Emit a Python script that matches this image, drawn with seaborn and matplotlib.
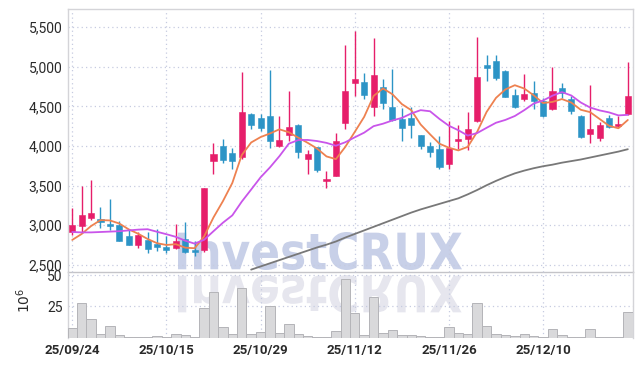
import numpy as np
import matplotlib
matplotlib.use("Agg")
import matplotlib.pyplot as plt
import seaborn as sns
from matplotlib.textpath import TextPath
from matplotlib.patches import PathPatch
from matplotlib.font_manager import FontProperties
from matplotlib.transforms import Affine2D, IdentityTransform
from matplotlib.ticker import FuncFormatter

# ---------------- data ----------------
dates = ["25/09/24", "25/09/25", "25/09/26", "25/09/29", "25/09/30", "25/10/01", "25/10/02",
         "25/10/10", "25/10/13", "25/10/14", "25/10/15", "25/10/16", "25/10/17", "25/10/20",
         "25/10/21", "25/10/22", "25/10/23", "25/10/24", "25/10/27", "25/10/28", "25/10/29",
         "25/10/30", "25/10/31", "25/11/03", "25/11/04", "25/11/05", "25/11/06", "25/11/07",
         "25/11/10", "25/11/11", "25/11/12", "25/11/13", "25/11/14", "25/11/17", "25/11/18",
         "25/11/19", "25/11/20", "25/11/21", "25/11/24", "25/11/25", "25/11/26", "25/11/27",
         "25/11/28", "25/12/01", "25/12/02", "25/12/03", "25/12/04", "25/12/05", "25/12/08",
         "25/12/09", "25/12/10", "25/12/11", "25/12/12", "25/12/15", "25/12/16", "25/12/17",
         "25/12/18", "25/12/19", "25/12/22", "25/12/23"]

opens = [2920, 2995, 3090, 3085, 3010, 3000, 2860, 2755, 2815, 2765,
         2730, 2715, 2825, 2690, 2690, 3815, 4005, 3915, 3860, 4410,
         4355, 4385, 4005, 4145, 4265, 3840, 3985, 3555, 3620, 4290,
         4795, 4810, 4490, 4745, 4495, 4345, 4355, 4135, 4005, 3965,
         3775, 4070, 4085, 4310, 5025, 5075, 4950, 4650, 4600, 4670,
         4570, 4470, 4730, 4595, 4385, 4155, 4105, 4355, 4250, 4405]
highs = [3220, 3490, 3570, 3235, 3330, 3055, 2940, 2910, 2910, 2950,
         2865, 3015, 3035, 2805, 3470, 4040, 4090, 3980, 4940, 4420,
         4405, 4960, 4375, 4700, 4275, 3955, 3990, 3685, 4165, 5275,
         5450, 4920, 5360, 4845, 4970, 4480, 4495, 4145, 4050, 4125,
         4310, 4260, 4425, 5375, 5150, 5150, 4960, 4720, 4910, 4815,
         4610, 4995, 4795, 4630, 4390, 4775, 4300, 4395, 4375, 5060]
lows = [2880, 2915, 3065, 2960, 2945, 2800, 2750, 2710, 2645, 2680,
        2655, 2695, 2645, 2610, 2665, 3645, 3790, 3715, 3840, 4210,
        4190, 3980, 3990, 4060, 3845, 3645, 3670, 3465, 3620, 4210,
        4635, 4595, 4375, 4470, 4310, 4070, 4105, 3965, 3865, 3710,
        3705, 3965, 3955, 4300, 4825, 4835, 4620, 4480, 4565, 4470,
        4370, 4460, 4605, 4405, 4105, 4040, 4065, 4230, 4235, 4395]
closes = [3000, 3130, 3150, 3035, 2990, 2805, 2755, 2880, 2705, 2725,
          2690, 2805, 2660, 2665, 3465, 3895, 3830, 3810, 4430, 4260,
          4230, 4060, 4075, 4240, 3925, 3905, 3695, 3580, 4070, 4700,
          4845, 4650, 4900, 4545, 4335, 4225, 4260, 4000, 3925, 3735,
          3980, 4090, 4220, 4870, 4990, 4865, 4625, 4490, 4660, 4565,
          4375, 4700, 4670, 4440, 4110, 4220, 4270, 4235, 4280, 4635]

ma_short = [2815, 2890, 2990, 3065, 3061, 3022, 2948, 2893, 2827, 2774,
            2751, 2761, 2717, 2710, 2858, 3099, 3304, 3534, 3886, 4045,
            4113, 4159, 4211, 4174, 4106, 4041, 3968, 3869, 3835, 3990,
            4178, 4368, 4632, 4727, 4654, 4530, 4453, 4272, 4148, 4029,
            3979, 3945, 3990, 4179, 4430, 4608, 4715, 4768, 4726, 4641,
            4543, 4557, 4593, 4549, 4458, 4428, 4342, 4256, 4224, 4329]
ma_mid = [2915, 2910, 2910, 2915, 2920, 2925, 2935, 2945, 2950, 2918,
          2887, 2854, 2805, 2768, 2816, 2925, 3032, 3125, 3298, 3451,
          3605, 3731, 3872, 4030, 4076, 4077, 4063, 4040, 4004, 4048,
          4110, 4169, 4251, 4282, 4323, 4355, 4411, 4453, 4439, 4342,
          4256, 4200, 4132, 4164, 4230, 4294, 4330, 4379, 4453, 4536,
          4575, 4636, 4681, 4638, 4550, 4486, 4450, 4425, 4387, 4394]
ma_long = [2440, 2480, 2520, 2560, 2600, 2640, 2680, 2720, 2755, 2795,
           2845, 2890, 2935, 2980, 3025, 3070, 3115, 3160, 3200, 3235,
           3270, 3305, 3340, 3390, 3445, 3505, 3560, 3610, 3655, 3690,
           3720, 3745, 3765, 3790, 3810, 3830, 3855, 3880, 3905, 3930, 3960]
ma_long_start = 19

volume = [7.3, 28.2, 15.3, 2.7, 9.1, 1.9, 0.8, 0.8, 0.8, 1.6,
          0.8, 3.2, 2.4, 0.8, 23.4, 36.3, 8.1, 3.2, 39.5, 3.2,
          4.7, 25.0, 3.8, 10.5, 3.0, 1.6, 0.8, 0.8, 5.1, 47.3,
          19.9, 2.4, 32.5, 3.7, 6.1, 2.3, 2.3, 1.4, 0.6, 0.6,
          8.6, 3.8, 2.7, 27.7, 9.4, 2.7, 2.1, 1.5, 2.7, 1.5,
          0.6, 6.8, 2.3, 0.6, 0.6, 6.8, 0.6, 0.6, 0.3, 20.7]

price_ticks = [2500, 3000, 3500, 4000, 4500, 5000, 5500]
volume_ticks = [25, 50]
watermark = "InvestCRUX"

# ---------------- style ----------------
UP = "#e61e6a"
DOWN = "#2c94c6"
C_SHORT = "#ee8150"
C_MID = "#c955ea"
C_LONG = "#787878"
GRID = "#c6cbe0"
SPINE = "#d4d4d8"
TXT = "#2a2a2a"

sns.set_theme(style="white")
plt.rcParams["font.family"] = ["Roboto", "DejaVu Sans"]

W, H = 642, 366
fig = plt.figure(figsize=(W / 100, H / 100), dpi=100)
L, R = 68 / W, 633 / W
ax = fig.add_axes([L, 1 - 272 / H, R - L, (272 - 9) / H])
axv = fig.add_axes([L, 1 - 337.5 / H, R - L, (337.5 - 272) / H], sharex=ax)
for a in (ax, axv):
    a.patch.set_alpha(0)

o = np.array(opens, float)
c = np.array(closes, float)
hi = np.array(highs, float)
lo = np.array(lows, float)
idx = np.arange(len(dates))
cols = [UP if cc >= oo else DOWN for oo, cc in zip(o, c)]

# candles
ax.vlines(idx, lo, hi, colors=cols, linewidth=1.0, zorder=3)
body_lo = np.minimum(o, c)
body_h = np.maximum(np.abs(c - o), 22)
ax.bar(idx, body_h, bottom=body_lo, width=0.64, color=cols, edgecolor=cols,
       linewidth=0.4, zorder=4)

# moving averages
sns.lineplot(x=idx, y=ma_short, ax=ax, color=C_SHORT, linewidth=1.3, zorder=5)
sns.lineplot(x=idx, y=ma_mid, ax=ax, color=C_MID, linewidth=1.3, zorder=5)
sns.lineplot(x=idx[ma_long_start:], y=ma_long, ax=ax, color=C_LONG,
             linewidth=1.3, zorder=5)

# volume
sns.barplot(x=idx, y=volume, ax=axv, native_scale=True, width=1.0,
            color="#d9d9db", edgecolor="#b4b4b8", linewidth=0.7, saturation=1,
            zorder=3)

# axes setup
ax.set_xlim(-0.45, len(dates) - 0.45)
ax.set_ylim(2410, 5730)
axv.set_ylim(0, 52.8)

xt = idx[::10]
ax.set_xticks(xt)
axv.set_xticks(xt)
axv.set_xticklabels([dates[i] for i in xt])
ax.tick_params(axis="x", labelbottom=False, length=0)
axv.tick_params(axis="x", length=0, pad=5, labelsize=9.5, labelcolor=TXT)
for t in axv.get_xticklabels():
    t.set_fontweight("bold")

ax.set_yticks(price_ticks)
ax.yaxis.set_major_formatter(FuncFormatter(lambda v, p: f"{int(v):,}"))
ax.tick_params(axis="y", length=0, pad=4, labelsize=10, labelcolor=TXT)
axv.set_yticks(volume_ticks)
axv.tick_params(axis="y", length=0, pad=4, labelsize=10, labelcolor=TXT)

for a in (ax, axv):
    a.grid(True, linestyle=(0, (1, 2.5)), color=GRID, linewidth=0.9)
    a.set_axisbelow(True)
    a.set_xlabel("")
    a.set_ylabel("")

for s in ("left", "top", "right"):
    ax.spines[s].set_color(SPINE)
    ax.spines[s].set_linewidth(1.0)
ax.spines["bottom"].set_color("#c4c4c8")
ax.spines["bottom"].set_linewidth(1.0)
for s in ("left", "right"):
    axv.spines[s].set_color(SPINE)
    axv.spines[s].set_linewidth(1.0)
axv.spines["top"].set_visible(False)
axv.spines["bottom"].set_visible(False)

axv.set_ylabel("$10^6$", fontsize=10, color=TXT, rotation=90)
axv.yaxis.set_label_coords((33 - 68) / 565, 0.56)

# watermark with reflection (pixel coordinates)
fp = FontProperties(family=["DejaVu Sans"], weight="bold")
tp = TextPath((0, 0), watermark, prop=fp, size=1)
ext = tp.get_extents()
sx = (462 - 178) / ext.width
sy = (270 - 232) / ext.height
tr_main = Affine2D().translate(-ext.x0, -ext.y0).scale(sx, sy).translate(178, H - 270)
tr_refl = Affine2D().translate(-ext.x0, -ext.y0).scale(sx, -sy).translate(178, H - 275)
for tr, col in ((tr_main, "#c8d0e8"), (tr_refl, "#e6e6ee")):
    p = PathPatch(tr.transform_path(tp), facecolor=col, edgecolor="none",
                  transform=IdentityTransform(), zorder=-1)
    fig.add_artist(p)

fig.savefig("out.png", dpi=100)
